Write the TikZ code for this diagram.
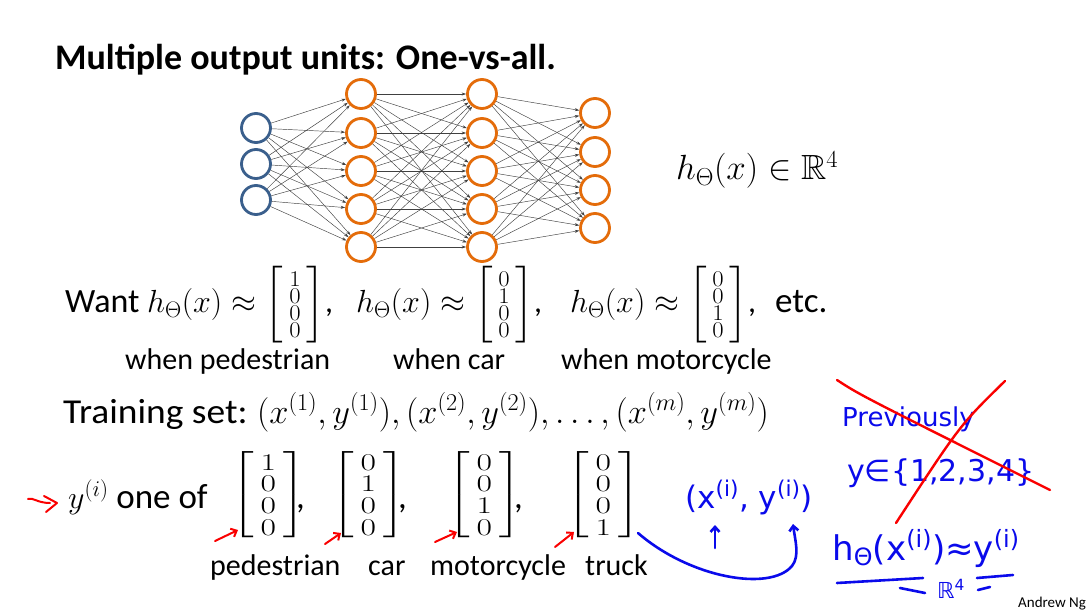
\RequirePackage{fix-cm}
\documentclass[tikz,border=0pt]{standalone}
\usepackage{amsmath,amssymb,graphicx}
\usepackage[no-math]{fontspec}
\setmainfont{Carlito}
\newfontfamily\handfont{DejaVu Sans}
\usetikzlibrary{arrows.meta}
\definecolor{inblue}{RGB}{58,95,140}
\definecolor{hidorange}{RGB}{228,108,10}
\definecolor{penblue}{RGB}{10,10,235}
\definecolor{penred}{RGB}{250,0,0}
\newcommand{\svec}[4]{\scalebox{1.1}[1]{$\left[\,\vcenter{\baselineskip=17pt\lineskiplimit=-30pt\lineskip=0pt\halign{\hfil$\scriptstyle##$\hfil\cr#1\cr#2\cr#3\cr#4\cr}}\,\right]$}}
\newcommand{\lvec}[4]{\scalebox{1.4}[1]{$\left[\kern5pt\vcenter{\baselineskip=21.7pt\lineskiplimit=-30pt\lineskip=0pt\halign{\hfil$##$\hfil\cr#1\cr#2\cr#3\cr#4\cr}}\kern5pt\right]$}}
\begin{document}
\begin{tikzpicture}[x=1pt,y=-1pt,
  inpnode/.style={circle,draw=inblue,line width=2.8pt,minimum size=29pt,inner sep=0pt},
  hidnode/.style={circle,draw=hidorange,line width=2.8pt,minimum size=29pt,inner sep=0pt},
  edge/.style={draw=black!75,line width=0.45pt,-{Stealth[length=4.5pt,width=3pt]}},
  mth/.style={anchor=base west,inner sep=0pt,font=\fontsize{32}{38}\selectfont},
  vecnode/.style={anchor=west,inner sep=0pt,font=\fontsize{24}{29}\selectfont},
  txtb/.style={anchor=base west,inner sep=0pt,font=\fontsize{35}{42}\selectfont},
  txts/.style={anchor=base west,inner sep=0pt,font=\fontsize{30}{36}\selectfont},
  hand/.style={anchor=base west,inner sep=0pt,text=penblue},
  bluepen/.style={draw=penblue,line width=2.6pt,line cap=round,line join=round},
  redpen/.style={draw=penred,line width=2.4pt,line cap=round,line join=round},
  barb/.style={-{Straight Barb[length=5pt,width=9pt]}}
]
\path[use as bounding box,fill=white] (0,0) rectangle (1090,612);

% title
\node[anchor=base west,inner sep=0pt,font=\fontsize{36}{43}\selectfont\bfseries] (title) at (55,70) {Multiple output units: One-vs-all.};

% network
\foreach \i/\y in {1/128,2/164,3/200} \node[inpnode] (a\i) at (256,\y) {};
\foreach \i/\y in {1/94,2/133,3/171,4/209,5/247} {
  \node[hidnode] (b\i) at (361,\y) {};
  \node[hidnode] (c\i) at (482,\y) {};
}
\foreach \i/\y in {1/113,2/152,3/190,4/228} \node[hidnode] (d\i) at (595,\y) {};
\foreach \i in {1,2,3} \foreach \j in {1,...,5} \draw[edge] (a\i) -- (b\j);
\foreach \i in {1,...,5} \foreach \j in {1,...,5} \draw[edge] (b\i) -- (c\j);
\foreach \i in {1,...,5} \foreach \j in {1,...,4} \draw[edge] (c\i) -- (d\j);

\node[mth,font=\fontsize{35}{42}\selectfont] (hout) at (676,180) {$h_\Theta(x)\in\mathbb{R}^4$};

% Want row
\node[txtb,font=\fontsize{34}{41}\selectfont] (want) at (65,313) {Want};
\node[mth] (w1) at (147,313) {$h_\Theta(x)\approx\svec1000$,};
\node[mth] (w2) at (356,313) {$h_\Theta(x)\approx\svec0100$,};
\node[mth] (w3) at (570,313) {$h_\Theta(x)\approx\svec0010$,};
\node[txtb] (etc) at (775,313) {etc.};
\node[txts] (l1) at (125,370) {when pedestrian};
\node[txts] (l2) at (393,370) {when car};
\node[txts] (l3) at (561,370) {when motorcycle};

% training set
\node[txtb] (ts) at (63,423) {\scalebox{1.07}[1]{Training set:}};
\node[mth,font=\fontsize{34.5}{41}\selectfont] (tsm) at (257,423) {$(x^{(1)},y^{(1)}),(x^{(2)},y^{(2)}),\ldots,(x^{(m)},y^{(m)})$};

% y one of
\node[txtb] (yone) at (68,508) {{\fontsize{32}{38}\selectfont$y^{(i)}$} one of};
\node[vecnode] (m1) at (231,495) {\lvec1000};
\node[vecnode] (m2) at (331,495) {\lvec0100};
\node[vecnode] (m3) at (447,495) {\lvec0010};
\node[vecnode] (m4) at (566,495) {\lvec0001};
\node[txtb] (cm1) at (296,508) {,};
\node[txtb] (cm2) at (398,508) {,};
\node[txtb] (cm3) at (514,508) {,};
\node[txts] (p1) at (210,575) {pedestrian};
\node[txts] (p2) at (368,575) {car};
\node[txts] (p3) at (430,575) {motorcycle};
\node[txts] (p4) at (585,575) {truck};

% red marks
\coordinate (r1a) at (215,541); \coordinate (r1b) at (238,530);
\coordinate (r2a) at (325,544); \coordinate (r2b) at (341,533);
\coordinate (r3a) at (435,542); \coordinate (r3b) at (457,532);
\coordinate (r4a) at (555,547); \coordinate (r4b) at (574,532);
\foreach \k in {1,2,3,4} \draw[redpen,line width=2pt,barb] (r\k a) -- (r\k b);
\coordinate (sq0) at (28,499); \coordinate (sq1) at (50,503);
\coordinate (sqh1) at (44,496); \coordinate (sqt) at (57,503); \coordinate (sqh2) at (46,512);
\draw[redpen,line width=2pt] (sq0) .. controls (33,497) and (37,503) .. (sq1);
\draw[redpen,line width=2pt] (sqh1) -- (sqt) -- (sqh2);

% blue handwriting
\node[hand,font=\handfont\fontsize{31}{37}\selectfont] (xy) at (685,508) {(x\textsuperscript{(i)}, y\textsuperscript{(i)})};
\coordinate (ua0) at (715,548); \coordinate (ua1) at (715,525);
\draw[bluepen,barb] (ua0) -- (ua1);
\coordinate (cs) at (638,533); \coordinate (ce) at (793,524);
\draw[bluepen,barb] (cs) .. controls (690,578) and (770,592) .. (792,566) .. controls (800,556) and (795,540) .. (ce);

\node[hand,font=\handfont\fontsize{26}{31}\selectfont] (prev) at (842,426) {Previously};
\node[hand,font=\handfont\fontsize{30}{36}\selectfont] (yset) at (847,481) {y∈\{1,2,3,4\}};
\coordinate (xa0) at (837,380); \coordinate (xa1) at (1050,490);
\coordinate (xb0) at (1005,381); \coordinate (xb1) at (896,523);
\draw[redpen] (xa0) .. controls (860,395) .. (xa1);
\draw[redpen] (xb0) .. controls (960,425) .. (xb1);

\node[hand,font=\handfont\fontsize{34}{40}\selectfont] (hx) at (832,560) {h\textsubscript{Θ}(x\textsuperscript{(i)})≈y\textsuperscript{(i)}};
\coordinate (u1a) at (837,583); \coordinate (u1b) at (923,578);
\coordinate (u2a) at (900,588); \coordinate (u2b) at (925,593);
\coordinate (u3a) at (977,578); \coordinate (u3b) at (1013,575);
\coordinate (u4a) at (978,590); \coordinate (u4b) at (990,587);
\draw[bluepen] (u1a) -- (u1b);
\draw[bluepen] (u2a) -- (u2b);
\draw[bluepen] (u3a) -- (u3b);
\draw[bluepen] (u4a) -- (u4b);
\node[hand,font=\handfont\fontsize{22}{26}\selectfont] (r4) at (937,598) {ℝ\textsuperscript{4}};

\node[anchor=base west,inner sep=0pt,font=\fontsize{15}{18}\selectfont] (author) at (1018,607) {Andrew Ng};
\end{tikzpicture}
\end{document}
